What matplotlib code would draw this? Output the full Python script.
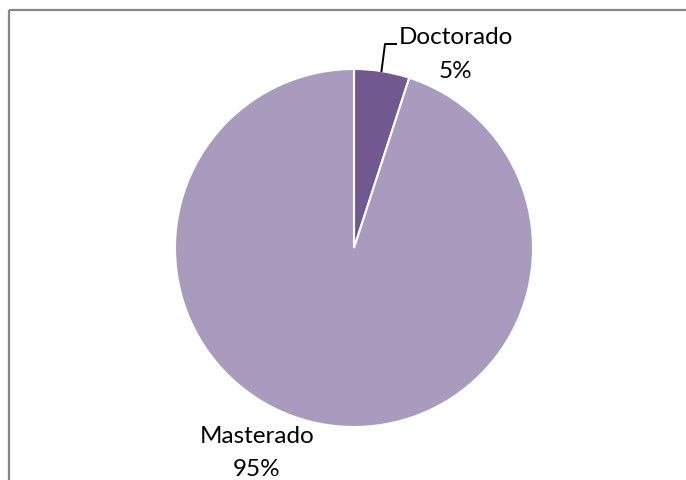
import matplotlib
matplotlib.use("Agg")
import matplotlib.pyplot as plt

categories = ["Doctorado", "Masterado"]
values = [5, 95]
colors = ["#71588F", "#A99BBD"]

W, H = 686, 481
fig = plt.figure(figsize=(W / 100, H / 100), dpi=100)
ax = fig.add_axes([0, 0, 1, 1])

cx, cy, r = 354, H - 249, 179
ax.pie(values, colors=colors, startangle=90, counterclock=False,
       center=(cx, cy), radius=r, frame=True,
       wedgeprops=dict(edgecolor="white", linewidth=1.5))
ax.set_xlim(0, W)
ax.set_ylim(0, H)
ax.set_aspect("equal")
ax.axis("off")

# border (cropped chart frame)
ax.plot([9, W], [H - 10.5, H - 10.5], color="#878787", lw=1.6, solid_capstyle="butt")
ax.plot([9, 9], [0, H - 10.5], color="#878787", lw=1.6, solid_capstyle="butt")

font = dict(family=["Lato", "DejaVu Sans"], fontsize=17.5, color="black",
            ha="center", va="center")
ax.text(456, H - 38, categories[0], **font)
ax.text(455, H - 72, f"{values[0]}%", **font)
ax.text(257, H - 437, categories[1], **font)
ax.text(257, H - 470, f"{values[1]}%", **font)

# leader line for Doctorado
ax.plot([381.5, 385, 396], [H - 72, H - 45, H - 45], color="black", lw=1.4)

fig.savefig("out.png", dpi=100)
